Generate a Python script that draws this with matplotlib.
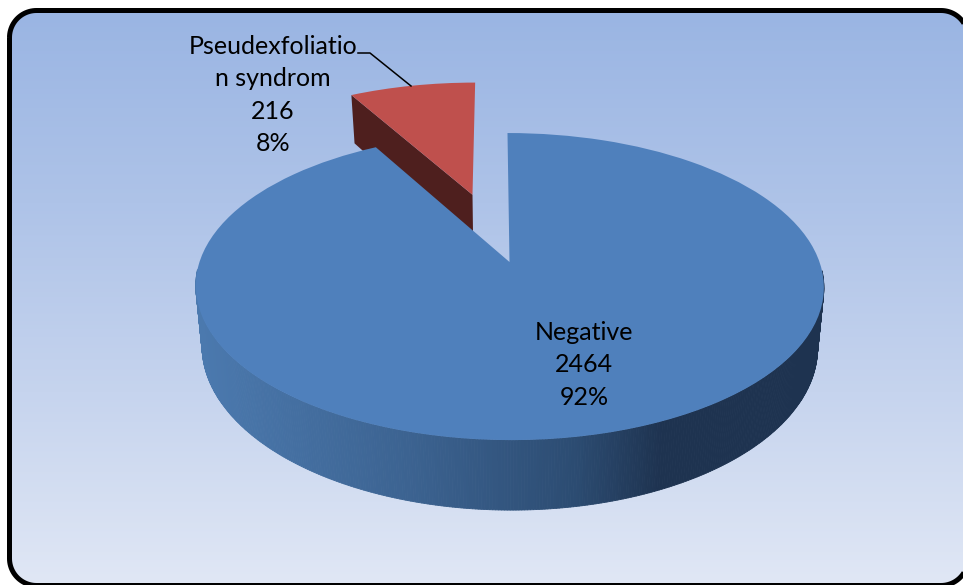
import numpy as np
import matplotlib
matplotlib.use("Agg")
import matplotlib.pyplot as plt
from matplotlib.collections import PolyCollection
from matplotlib.colors import LinearSegmentedColormap
from matplotlib.patches import Polygon
from matplotlib.transforms import Transform

categories = ["Negative", "Pseudexfoliatio\nn syndrom"]
values = [2464, 216]
percent_labels = ["92%", "8%"]

plt.rcParams["font.family"] = ["Lato", "DejaVu Sans"]

W, H = 963, 585
CX, CY = 509.5, 262.0
A, B, K, SKEW = 310.0, 149.6, 0.16, 2.0
DEPTH, SHRINK = 58.8, 0.98


class Perspective(Transform):
    input_dims = output_dims = 2

    def transform_non_affine(self, pts):
        pts = np.asarray(pts, float)
        d = 1 + K * pts[:, 1]
        return np.column_stack((CX + A * pts[:, 0] / d - SKEW * pts[:, 1], CY - B * pts[:, 1] / d))


persp = Perspective()


def extrude(pts):
    pts = np.asarray(pts, float)
    p = persp.transform_non_affine(pts)
    p[:, 0] = CX + (p[:, 0] - CX) * SHRINK
    p[:, 1] += DEPTH / (1 + K * pts[:, 1])
    return p


def rounded_rect(x0, y0, x1, y1, r, n=24):
    t = np.linspace(0, np.pi / 2, n)
    s, c = np.sin(t), np.cos(t)
    return np.vstack([
        np.column_stack((x0 + r - r * c, y0 + r - r * s)),
        np.column_stack((x1 - r + r * s, y0 + r - r * c)),
        np.column_stack((x1 - r + r * c, y1 - r + r * s)),
        np.column_stack((x0 + r - r * s, y1 - r + r * c)),
    ])


fig = plt.figure(figsize=(W / 100, H / 100), dpi=100, facecolor="white")
ax = fig.add_axes([0, 0, 1, 1])

wedges, _ = ax.pie(values, explode=[0, 0.5], startangle=90, counterclock=False,
                   colors=["#4f80bc", "#bf504d"], wedgeprops={"linewidth": 0})
ax.set(aspect="auto", xlim=(0, W), ylim=(H, 0))
ax.axis("off")

# background panel
outline = rounded_rect(9.5, 10.5, 968, 585.5, 27)
bg_cmap = LinearSegmentedColormap.from_list("bg", ["#9ab5e3", "#aec3e8", "#c6d4ee", "#e0e7f5"])
bg = ax.imshow(np.linspace(0, 1, 256)[:, None], cmap=bg_cmap, extent=(0, W, 583, 12),
               aspect="auto", zorder=0)
clip = Polygon(outline, closed=True, facecolor="none", edgecolor="none", transform=ax.transData)
ax.add_patch(clip)
bg.set_clip_path(clip)
ax.add_patch(Polygon(outline, closed=True, facecolor="none", edgecolor="black",
                     linewidth=3.6, zorder=5, clip_on=True))
ax.set(xlim=(0, W), ylim=(H, 0))

blue, red = wedges

# exploded slice: cut face, then top
t_left = np.deg2rad(red.theta2)
c = np.array(red.center)
face3d = np.array([c, c + red.r * np.array([np.cos(t_left), np.sin(t_left)])])
top_pts = persp.transform_non_affine(face3d)
low_pts = extrude(face3d)
ax.fill(np.r_[top_pts[:, 0], low_pts[::-1, 0]], np.r_[top_pts[:, 1], low_pts[::-1, 1]],
        color="#4e1f1e", linewidth=0, zorder=1)
red.set_transform(persp + ax.transData)
red.set_zorder(2)

# side wall of the large slice, shaded across its width
theta = np.deg2rad(np.linspace(blue.theta1, blue.theta2, 721))
rim3d = np.column_stack((np.cos(theta), np.sin(theta)))
rim3d = rim3d[rim3d[:, 1] < -0.05]
upper, lower = persp.transform_non_affine(rim3d), extrude(rim3d)
quads = [[upper[i], upper[i + 1], lower[i + 1], lower[i]] for i in range(len(rim3d) - 1)]
wall_cmap = LinearSegmentedColormap.from_list(
    "wall", [(0, "#4b79ae"), (0.33, "#3c6391"), (0.6, "#2c4c72"), (0.74, "#1e3350"), (1, "#1e3350")])
shade = np.clip([(q[0][0] - 200) / 625 for q in quads], 0, 1)
wall = PolyCollection(quads, facecolors=wall_cmap(shade), edgecolors=wall_cmap(shade),
                      linewidths=0.6, zorder=3)
ax.add_collection(wall)
blue.set_transform(persp + ax.transData)
blue.set_zorder(4)

# labels
ax.text(584, 365, f"{categories[0]}\n{values[0]}\n{percent_labels[0]}", ha="center", va="center",
        fontsize=18, linespacing=1.5, color="black", zorder=6)
ax.text(273, 95, f"{categories[1]}\n{values[1]}\n{percent_labels[1]}", ha="center", va="center",
        fontsize=18, linespacing=1.5, color="black", zorder=6)
ax.plot([358, 370, 411], [53, 53, 86], color="black", lw=1.1, zorder=6)
ax.set(xlim=(0, W), ylim=(H, 0))

fig.savefig("out.png", dpi=100)
